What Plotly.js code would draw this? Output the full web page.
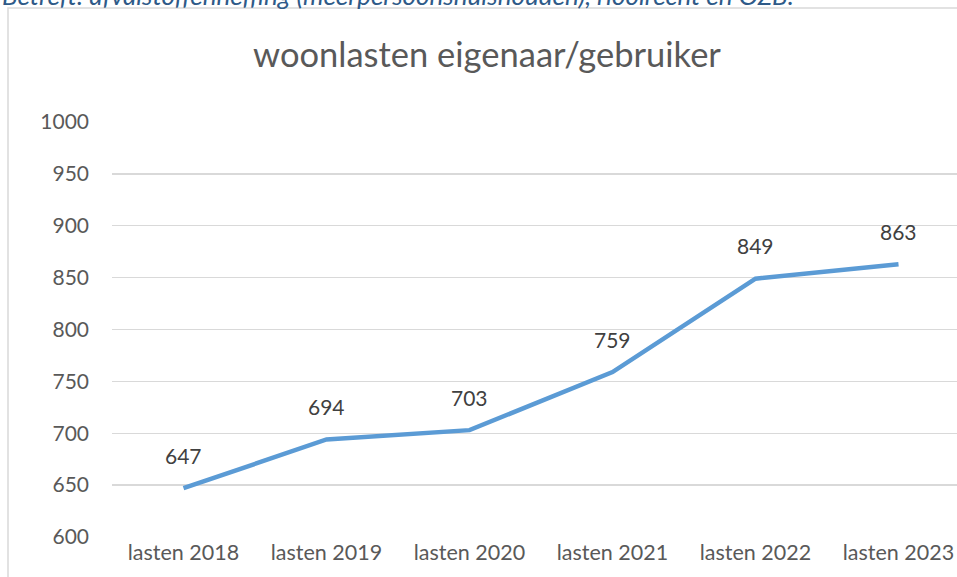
<!DOCTYPE html>
<html>
<head>
<meta charset="utf-8">
<script src="https://cdn.plot.ly/plotly-3.0.1.min.js"></script>
<style>
html,body{margin:0;padding:0;overflow:hidden;background:#fff;}
#chart{width:957px;height:577px;}
</style>
</head>
<body>
<div id="chart"></div>
<script>
const categories = ["lasten 2018","lasten 2019","lasten 2020","lasten 2021","lasten 2022","lasten 2023"];
const values = [647, 694, 703, 759, 849, 863];
const yTicks = [600,650,700,750,800,850,900,950,1000];
const chartTitle = "woonlasten eigenaar/gebruiker";
const noteText = "Betreft: afvalstoffenheffing (meerpersoonshuishouden), rioolrecht en OZB.";

const font = "Lato, 'Noto Sans', sans-serif";

const trace = {
  x: categories.map((c,i)=>i),
  y: values,
  type: 'scatter',
  mode: 'lines',
  line: {color: '#5b9bd5', width: 4.5},
  hoverinfo: 'skip'
};

const labelAnns = values.map((v,i)=>({
  x: i, y: v, xref: 'x', yref: 'y',
  text: String(v), showarrow: false,
  yshift: 33, yanchor: 'middle', xanchor: 'center',
  font: {family: font, size: 21, color: '#404040'}
}));

const layout = {
  width: 957, height: 577,
  margin: {l: 112, r: 0, t: 122, b: 40},
  paper_bgcolor: '#fff', plot_bgcolor: '#fff',
  showlegend: false,
  title: {text: chartTitle, x: 487/957, xref: 'container', xanchor: 'center', y: 0.905, yanchor: 'middle',
    font: {family: font, size: 34.5, color: '#595959'}},
  xaxis: {
    range: [-0.5, 5.409],
    tickmode: 'array',
    tickvals: categories.map((c,i)=>i),
    ticktext: categories,
    showgrid: false, zeroline: false, showline: false,
    ticks: '',
    tickfont: {family: font, size: 21.5, color: '#595959'},
    fixedrange: true
  },
  yaxis: {
    range: [600, 1000],
    tickmode: 'array',
    tickvals: yTicks,
    showgrid: true, gridcolor: '#d9d9d9', gridwidth: 1.3,
    zeroline: false, showline: false, ticks: '',
    ticklabelstandoff: 22,
    tickfont: {family: font, size: 21, color: '#595959'},
    fixedrange: true
  },
  shapes: [{
    type: 'rect', xref: 'paper', yref: 'paper',
    x0: (8-112)/845, x1: 1.2, y0: -0.3, y1: 1 + (122-8)/415,
    line: {color: '#d9d9d9', width: 1.5}, fillcolor: 'rgba(0,0,0,0)'
  }],
  annotations: labelAnns.concat([{
    xref: 'paper', yref: 'paper',
    x: (0-112)/845, y: 1 + (122+5)/415,
    xanchor: 'left', yanchor: 'middle', showarrow: false,
    text: '<i>' + noteText + '</i>',
    font: {family: font, size: 26, color: '#2e5a88'}
  }])
};

Plotly.newPlot('chart', [trace], layout, {displayModeBar: false, staticPlot: true});
</script>
</body>
</html>
